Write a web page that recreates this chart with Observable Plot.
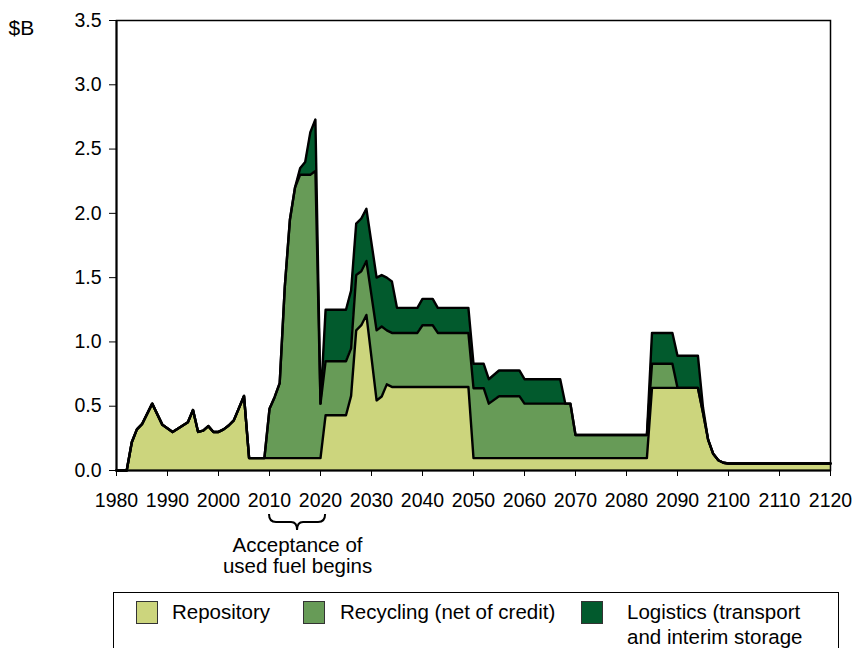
<!DOCTYPE html>
<html>
<head>
<meta charset="utf-8">
<script src="https://cdn.jsdelivr.net/npm/d3@7"></script>
<script src="https://cdn.jsdelivr.net/npm/@observablehq/plot@0.6"></script>
<style>
  body { margin: 0; background: #fff; font-family: "Liberation Sans", Arial, sans-serif; }
  #wrap { position: relative; width: 855px; height: 648px; overflow: hidden; }
  #chart svg { display: block; }
  #legend { position: absolute; left: 113px; top: 592px; width: 726px; height: 70px; border: 1.5px solid #000; box-sizing: border-box; font-size: 20.5px; color: #000; }
  .sw { position: absolute; width: 22px; height: 23px; box-sizing: border-box; border: 1px solid #333; }
  .lb { position: absolute; line-height: 25px; white-space: nowrap; }
</style>
</head>
<body>
<div id="wrap">
  <div id="chart"></div>
  <div id="legend"></div>
</div>
<script>
// ---- data ----
const years = [1980, 1982, 1983, 1984, 1985, 1987, 1989, 1991, 1994, 1995, 1996, 1997, 1998, 1999, 2000, 2001, 2002, 2003, 2005, 2006,
  2009, 2010, 2011, 2012, 2013, 2014, 2015, 2016, 2017, 2018, 2019, 2020, 2021, 2025, 2026, 2027, 2028, 2029, 2031, 2032,
  2033, 2034, 2035, 2039, 2040, 2042, 2043, 2049, 2050, 2052, 2053, 2055, 2059, 2060, 2067, 2068, 2069, 2070, 2084, 2085,
  2089, 2090, 2094, 2095, 2096, 2097, 2098, 2099, 2100, 2120];
const repository = [0, 0, 0.22, 0.32, 0.36, 0.52, 0.355, 0.30, 0.375, 0.47, 0.30, 0.31, 0.345, 0.30, 0.30, 0.32, 0.35, 0.39, 0.58, 0.096,
  0.096, 0.096, 0.096, 0.096, 0.096, 0.096, 0.096, 0.096, 0.096, 0.096, 0.096, 0.096, 0.43, 0.43, 0.58, 1.09, 1.13, 1.21, 0.545, 0.575,
  0.67, 0.65, 0.65, 0.65, 0.65, 0.65, 0.65, 0.65, 0.096, 0.096, 0.096, 0.096, 0.096, 0.096, 0.096, 0.096, 0.096, 0.096, 0.096, 0.643,
  0.643, 0.643, 0.643, 0.45, 0.24, 0.13, 0.08, 0.06, 0.054, 0.054];
const recycling = [0, 0, 0, 0, 0, 0, 0, 0, 0, 0, 0, 0, 0, 0, 0, 0, 0, 0, 0, 0,
  0, 0.384, 0.474, 0.584, 1.334, 1.854, 2.104, 2.204, 2.204, 2.204, 2.234, 0.424, 0.42, 0.42, 0.37, 0.43, 0.42, 0.42, 0.545, 0.545,
  0.42, 0.42, 0.42, 0.42, 0.48, 0.48, 0.42, 0.42, 0.544, 0.544, 0.424, 0.482, 0.482, 0.424, 0.424, 0.424, 0.424, 0.18, 0.18, 0.187,
  0.187, 0, 0, 0, 0, 0, 0, 0, 0, 0];
const logistics = [0, 0, 0, 0, 0, 0, 0, 0, 0, 0, 0, 0, 0, 0, 0, 0, 0, 0, 0, 0,
  0, 0, 0, 0, 0, 0, 0, 0.05, 0.10, 0.33, 0.40, 0, 0.40, 0.40, 0.45, 0.40, 0.41, 0.405, 0.41, 0.40,
  0.41, 0.40, 0.195, 0.195, 0.205, 0.205, 0.195, 0.195, 0.19, 0.19, 0.19, 0.20, 0.20, 0.19, 0.19, 0, 0, 0, 0, 0.24,
  0.24, 0.25, 0.25, 0.04, 0, 0, 0, 0, 0, 0];
const seriesNames = ["Repository", "Recycling (net of credit)", "Logistics (transport and interim storage"];
const seriesColors = ["#CCD57D", "#679B57", "#025A2D"];
const xTicks = [1980, 1990, 2000, 2010, 2020, 2030, 2040, 2050, 2060, 2070, 2080, 2090, 2100, 2110, 2120];
const yTicks = [0, 0.5, 1.0, 1.5, 2.0, 2.5, 3.0, 3.5];
const unitLabel = ["$B"];
const annotation = [{year: 2015.5, label: "Acceptance of\nused fuel begins"}];
const braceYears = [2010, 2021];

// ---- tidy table ----
const series = [repository, recycling, logistics];
const rows = [];
series.forEach((vals, k) => years.forEach((yr, i) => rows.push({year: yr, value: vals[i], series: seriesNames[k]})));

function brace(index, scales, values, dimensions) {
  const x1 = scales.x(braceYears[0]), x2 = scales.x(braceYears[1]), xm = (x1 + x2) / 2;
  const base = dimensions.height - dimensions.marginBottom;
  const yt = base + 44, ym = base + 52, yb = base + 60;
  return d3.create("svg:path")
    .attr("d", `M${x1},${yt} Q${x1},${ym} ${x1 + 7},${ym} L${xm - 6},${ym} Q${xm},${ym} ${xm},${yb} Q${xm},${ym} ${xm + 6},${ym} L${x2 - 7},${ym} Q${x2},${ym} ${x2},${yt}`)
    .attr("fill", "none").attr("stroke", "#000").attr("stroke-width", 2)
    .node();
}

const chart = Plot.plot({
  width: 855,
  height: 590,
  marginLeft: 116,
  marginRight: 25,
  marginTop: 20,
  marginBottom: 120,
  style: {fontFamily: "Liberation Sans, Arial, sans-serif", fontSize: "19.5px", color: "#000", background: "#fff", overflow: "visible"},
  x: {domain: [1980, 2120], ticks: xTicks, tickFormat: d => String(d), tickSize: 6, tickPadding: 17, label: null},
  y: {domain: [0, 3.5], ticks: yTicks, tickFormat: d => d.toFixed(1), tickSize: 7, tickPadding: 8, label: null},
  color: {domain: seriesNames, range: seriesColors},
  marks: [
    Plot.areaY(rows, {x: "year", y: "value", z: "series", fill: "series"}),
    Plot.lineY(rows, Plot.stackY2({x: "year", y: "value", z: "series", stroke: "#000", strokeWidth: 2.4, strokeLinejoin: "round"})),
    Plot.frame({stroke: "#000", strokeWidth: 1.5}),
    Plot.ruleY([0], {stroke: "#000", strokeWidth: 2}),
    Plot.ruleX([1980], {stroke: "#000", strokeWidth: 2}),
    Plot.text(unitLabel, {frameAnchor: "top-left", dx: -108, textAnchor: "start", fontSize: 21}),
    Plot.text(annotation, {x: "year", text: "label", frameAnchor: "bottom", dy: 66, lineAnchor: "top", lineHeight: 1.05, fontSize: 20.5}),
    brace
  ]
});
document.getElementById("chart").appendChild(chart);

// ---- legend ----
const legend = document.getElementById("legend");
const swLeft = [22, 189, 467];
const lbLeft = [58, 226, 513];
const lbText = ["Repository", "Recycling (net of credit)", "Logistics (transport<br>and interim storage"];
seriesNames.forEach((name, i) => {
  const sw = document.createElement("div");
  sw.className = "sw";
  sw.style.left = swLeft[i] + "px";
  sw.style.top = "8px";
  sw.style.background = seriesColors[i];
  legend.appendChild(sw);
  const lb = document.createElement("div");
  lb.className = "lb";
  lb.style.left = lbLeft[i] + "px";
  lb.style.top = "6px";
  lb.innerHTML = lbText[i];
  legend.appendChild(lb);
});
</script>
</body>
</html>
